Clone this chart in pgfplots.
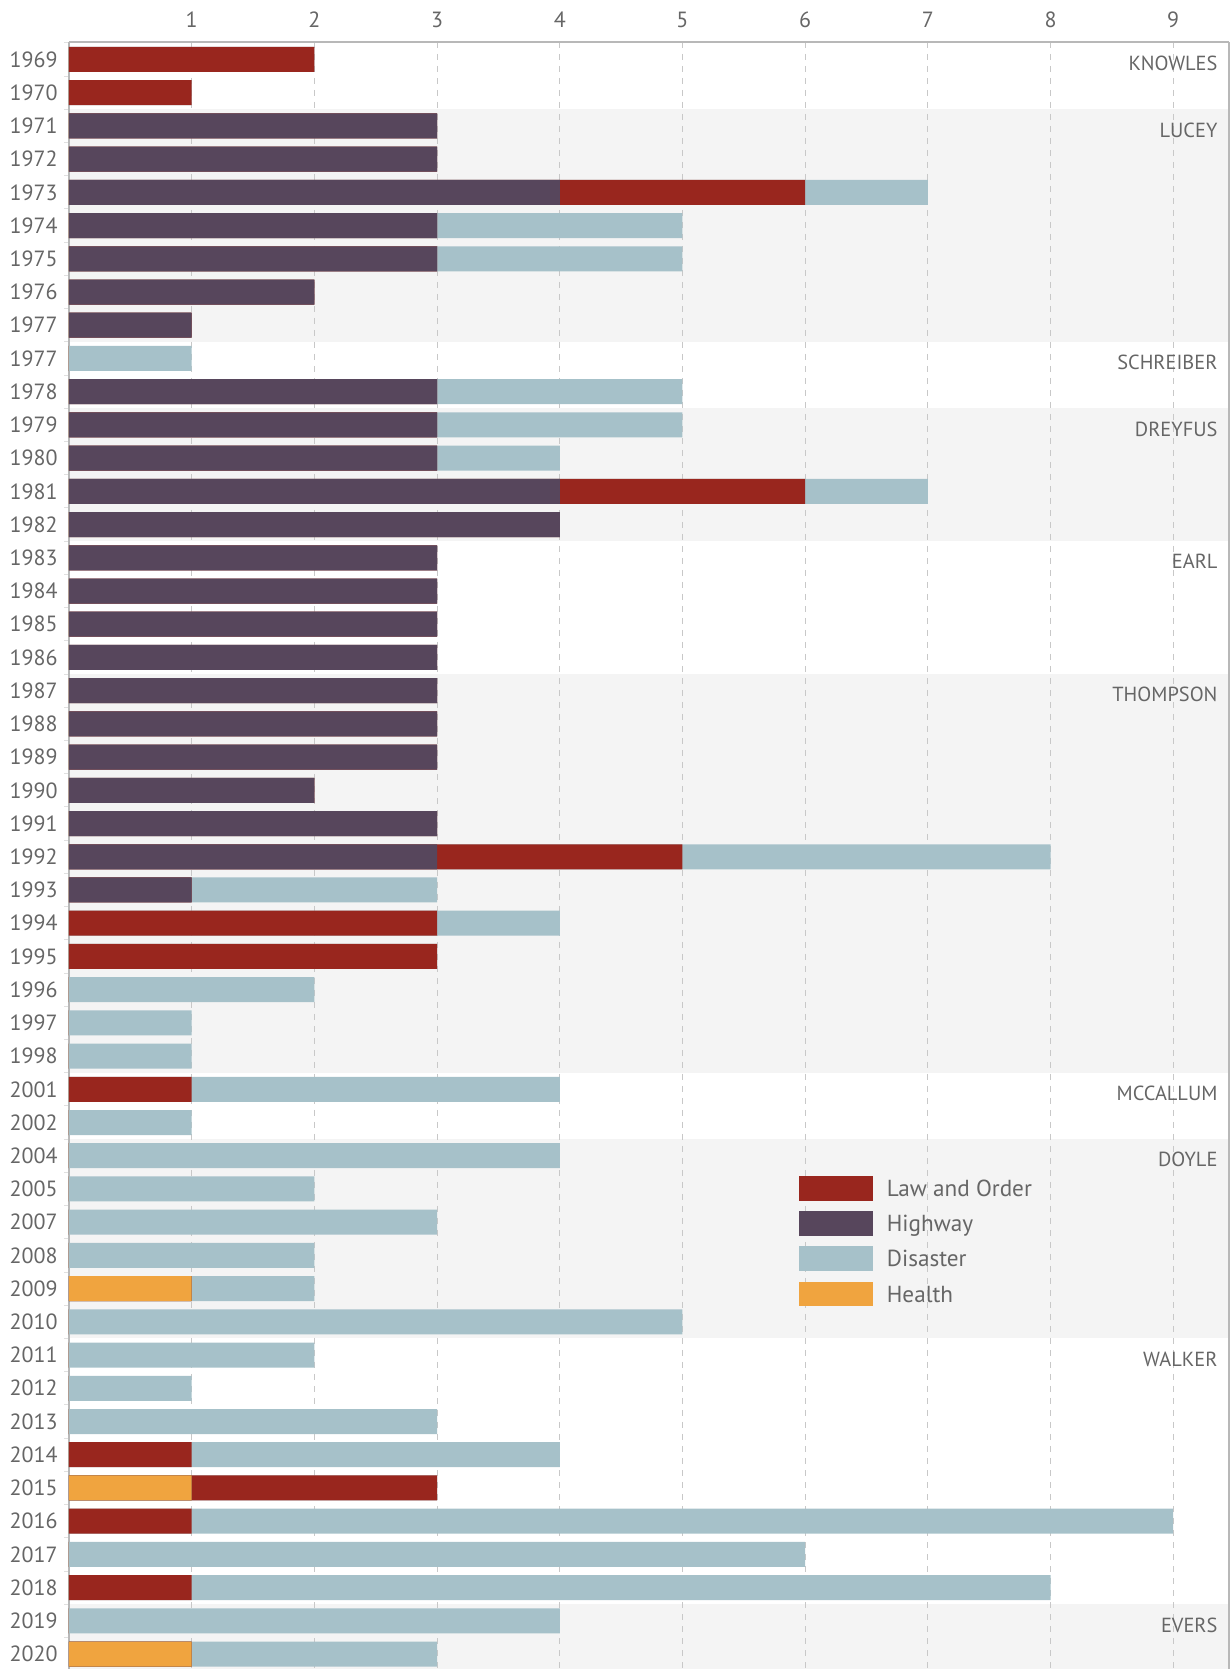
\documentclass[border=0pt]{standalone}
\usepackage{pgfplots}
\pgfplotsset{compat=1.18}
\usepackage{pgfplotstable}
\usepackage{fontspec}
\setmainfont{PT Sans}
\definecolor{law}{HTML}{99261E}
\definecolor{hwy}{HTML}{57465C}
\definecolor{dis}{HTML}{A6C1C9}
\definecolor{hea}{HTML}{F0A43F}
\definecolor{band}{HTML}{F4F4F4}
\definecolor{txt}{HTML}{666666}
\definecolor{axl}{HTML}{B8B8B8}
\definecolor{gridc}{HTML}{C8C8C8}

\pgfplotstableread{
row health highway law disaster
0 0 0 2 0
1 0 0 1 0
2 0 3 0 0
3 0 3 0 0
4 0 4 2 1
5 0 3 0 2
6 0 3 0 2
7 0 2 0 0
8 0 1 0 0
9 0 0 0 1
10 0 3 0 2
11 0 3 0 2
12 0 3 0 1
13 0 4 2 1
14 0 4 0 0
15 0 3 0 0
16 0 3 0 0
17 0 3 0 0
18 0 3 0 0
19 0 3 0 0
20 0 3 0 0
21 0 3 0 0
22 0 2 0 0
23 0 3 0 0
24 0 3 2 3
25 0 1 0 2
26 0 0 3 1
27 0 0 3 0
28 0 0 0 2
29 0 0 0 1
30 0 0 0 1
31 0 0 1 3
32 0 0 0 1
33 0 0 0 4
34 0 0 0 2
35 0 0 0 3
36 0 0 0 2
37 1 0 0 1
38 0 0 0 5
39 0 0 0 2
40 0 0 0 1
41 0 0 0 3
42 0 0 1 3
43 1 0 2 0
44 0 0 1 8
45 0 0 0 6
46 0 0 1 7
47 0 0 0 4
48 1 0 0 2
}\datatable

\begin{document}
\begin{tikzpicture}
\begin{axis}[
  set layers,
  scale only axis,
  width=580pt, height=813.5pt,
  xmin=0, xmax=9.455,
  ymin=-0.527, ymax=48.45,
  y dir=reverse,
  xbar, bar shift=0pt,
  bar width=12.5pt,
  axis x line*=top,
  axis y line*=box,
  axis line style={draw=axl, line width=0.6pt},
  xtick={1,...,9},
  ytick={0,...,48},
  yticklabels={1969,1970,1971,1972,1973,1974,1975,1976,1977,1977,1978,1979,1980,1981,1982,1983,1984,1985,1986,1987,1988,1989,1990,1991,1992,1993,1994,1995,1996,1997,1998,2001,2002,2004,2005,2007,2008,2009,2010,2011,2012,2013,2014,2015,2016,2017,2018,2019,2020},
  minor ytick={-0.5,0.5,...,48.5},
  ytick pos=left,
  major tick length=0pt,
  minor tick length=2.5pt,
  tick align=outside,
  minor tick style={draw=black!12, line width=0.5pt},
  xmajorgrids=true,
  major grid style={draw=gridc, dash pattern=on 3pt off 3pt, line width=0.5pt},
  /pgf/number format/assume math mode=true,
  tick label style={font=\fontsize{11}{13}\selectfont, text=txt},
  xticklabel style={inner sep=0pt, anchor=south, yshift=7pt},
  yticklabel style={inner sep=0pt, anchor=east, xshift=-5.5pt},
  legend style={at={(axis cs:5.949,33.61)}, anchor=north west, draw=none, fill=none,
    inner sep=0pt, outer sep=0pt, row sep=5.3pt,
    font=\fontsize{11.6}{13}\selectfont, text=txt,
    nodes={inner sep=0pt, text depth=0pt},
    /tikz/every odd column/.append style={column sep=7pt}},
  legend cell align=left,
]
\begin{pgfonlayer}{axis background}
\fill[band] (axis cs:0,1.5) rectangle (axis cs:9.455,8.5);
\fill[band] (axis cs:0,10.5) rectangle (axis cs:9.455,14.5);
\fill[band] (axis cs:0,18.5) rectangle (axis cs:9.455,30.5);
\fill[band] (axis cs:0,32.5) rectangle (axis cs:9.455,38.5);
\fill[band] (axis cs:0,46.5) rectangle (axis cs:9.455,48.45);
\end{pgfonlayer}

% stacked order along each row: Health, Highway, Law and Order, Disaster
\addplot[fill=dis, draw=none, forget plot] table[x expr=\thisrow{health}+\thisrow{highway}+\thisrow{law}+\thisrow{disaster}, y=row] {\datatable};
\addplot[fill=law, draw=none, forget plot] table[x expr=\thisrow{health}+\thisrow{highway}+\thisrow{law}, y=row] {\datatable};
\addplot[fill=hwy, draw=none, forget plot] table[x expr=\thisrow{health}+\thisrow{highway}, y=row] {\datatable};
\addplot[fill=hea, draw=none, forget plot] table[x=health, y=row] {\datatable};

\addlegendimage{legend image code/.code={\fill[fill=law, draw=none] (0pt,-6.15pt) rectangle (37pt,6.15pt);}}
\addlegendentry{Law and Order}
\addlegendimage{legend image code/.code={\fill[fill=hwy, draw=none] (0pt,-6.15pt) rectangle (37pt,6.15pt);}}
\addlegendentry{Highway}
\addlegendimage{legend image code/.code={\fill[fill=dis, draw=none] (0pt,-6.15pt) rectangle (37pt,6.15pt);}}
\addlegendentry{Disaster}
\addlegendimage{legend image code/.code={\fill[fill=hea, draw=none] (0pt,-6.15pt) rectangle (37pt,6.15pt);}}
\addlegendentry{Health}

\begin{scope}[every node/.style={anchor=base east, font=\fontsize{10.2}{12}\selectfont, text=txt, inner sep=0pt, yshift=-5.6pt}]
\node at (axis cs:9.364,0) {KNOWLES};
\node at (axis cs:9.364,2) {LUCEY};
\node at (axis cs:9.364,9) {SCHREIBER};
\node at (axis cs:9.364,11) {DREYFUS};
\node at (axis cs:9.364,15) {EARL};
\node at (axis cs:9.364,19) {THOMPSON};
\node at (axis cs:9.364,31) {MCCALLUM};
\node at (axis cs:9.364,33) {DOYLE};
\node at (axis cs:9.364,39) {WALKER};
\node at (axis cs:9.364,47) {EVERS};
\end{scope}
\end{axis}
\pgfresetboundingbox
\path ([xshift=-34.5pt]current axis.south west) rectangle ([xshift=1pt,yshift=21pt]current axis.north east);
\end{tikzpicture}
\end{document}
